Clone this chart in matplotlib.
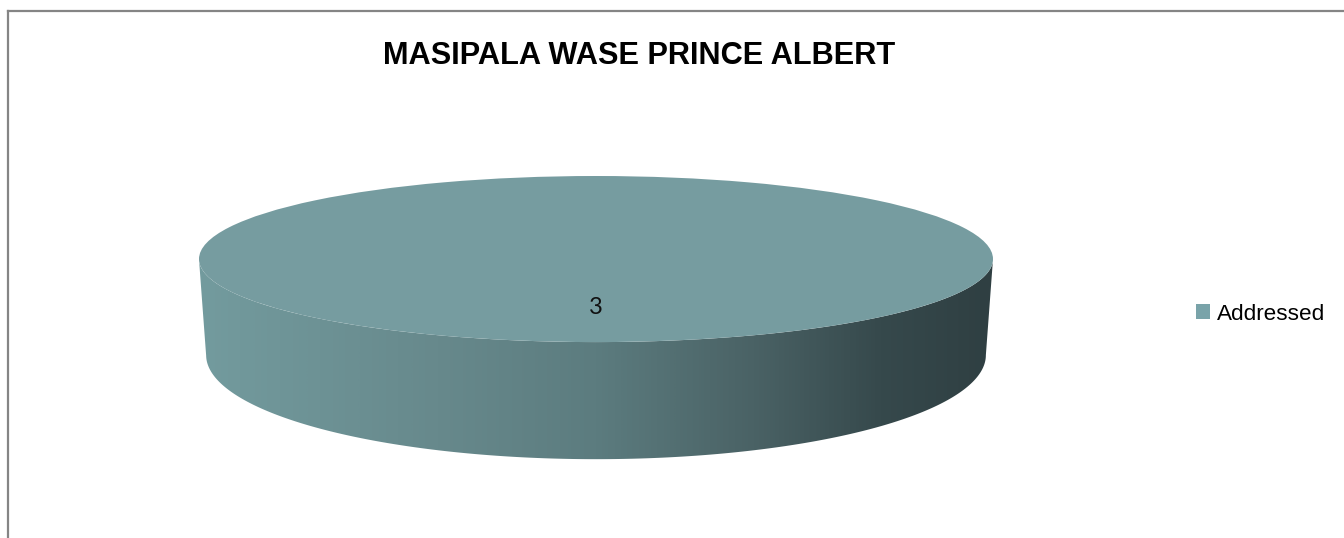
import matplotlib
matplotlib.use('Agg')
import matplotlib.pyplot as plt
from matplotlib import font_manager
from matplotlib.patches import Polygon, Patch
from matplotlib.lines import Line2D
from matplotlib.colors import LinearSegmentedColormap
import numpy as np

# ---- data ----
categories = ['Addressed']
values = [3]
title = 'MASIPALA WASE PRINCE ALBERT'

# ---- style ----
W, H = 1344, 538
series_colors = ['#79a3a9']
top_color = '#769ca0'
wall_stops = [(0.0, '#739b9e'), (0.3, '#67898c'), (0.5, '#5c7c7f'),
              (0.7, '#4a6265'), (0.86, '#36494c'), (1.0, '#2f3f42')]

avail = {f.name for f in font_manager.fontManager.ttflist}
narrow = 'Liberation Sans Narrow' if 'Liberation Sans Narrow' in avail else 'Liberation Sans'

fig = plt.figure(figsize=(W / 100, H / 100), dpi=100)
fig.patch.set_facecolor('white')

# chart border (left and top visible)
fig.add_artist(Line2D([8 / W, 8 / W], [0, 1 - 11 / H], color='#858585', lw=1.6))
fig.add_artist(Line2D([8 / W, 1], [1 - 11 / H, 1 - 11 / H], color='#858585', lw=1.6))

# ---- pie axes: unit circle maps to the top ellipse ----
ax = fig.add_axes([199 / W, 1 - 460 / H, 794 / W, 284 / H])
wedges, _ = ax.pie(values, colors=[top_color] * len(values), radius=1,
                   startangle=90, counterclock=False,
                   wedgeprops=dict(linewidth=0, zorder=3))
ax.set_aspect('auto')
ax.set_xlim(-1, 1)
ax.set_ylim(-2.42, 1)
ax.axis('off')

# 3D side wall (bottom ellipse in perspective)
a2, yc, b2 = 0.982, -1.157, 1.253
cmap = LinearSegmentedColormap.from_list('wall', wall_stops)
for w in wedges:
    t = np.radians(np.linspace(w.theta1, w.theta2, 1441))
    front = np.sin(t) <= 0
    if not front.any():
        continue
    tf = t[front]
    top_pts = np.column_stack([np.cos(tf), np.sin(tf)])
    bot_pts = np.column_stack([a2 * np.cos(tf), yc + b2 * np.sin(tf)])[::-1]
    poly = Polygon(np.vstack([top_pts, bot_pts]), closed=True, fill=False,
                   lw=0, transform=ax.transData)
    ax.add_patch(poly)
    grad = np.linspace(0, 1, 800).reshape(1, -1)
    im = ax.imshow(grad, cmap=cmap, extent=[-1, 1, -2.42, 0.2],
                   aspect='auto', zorder=1, interpolation='bilinear')
    im.set_clip_path(poly)
ax.set_xlim(-1, 1)
ax.set_ylim(-2.42, 1)

# data labels
for w, v in zip(wedges, values):
    mid = np.radians((w.theta1 + w.theta2) / 2)
    r = 0.58
    ax.text(r * np.cos(mid), r * np.sin(mid), str(v), ha='center', va='center',
            fontsize=17, family=['Lato', 'DejaVu Sans'], color='#111111', zorder=5)

# title
t = fig.text(639 / W, 1 - 56 / H, title, ha='center', va='center',
             fontsize=26, fontweight='bold', family=[narrow, 'DejaVu Sans'], color='black')
r = fig.canvas.get_renderer()
bb = t.get_window_extent(r)
t.set_fontsize(26 * 512 / bb.width)

# legend
handles = [Patch(facecolor=c, edgecolor='none') for c in series_colors]
fig.legend(handles, categories, loc='center left',
           bbox_to_anchor=(1196 / W, 1 - 314 / H), frameon=False,
           borderpad=0, borderaxespad=0, handlelength=0.62, handleheight=0.62,
           handletextpad=0.32,
           prop=dict(family=[narrow, 'DejaVu Sans'], size=16.2))

fig.savefig('out.png', dpi=100, facecolor='white')
